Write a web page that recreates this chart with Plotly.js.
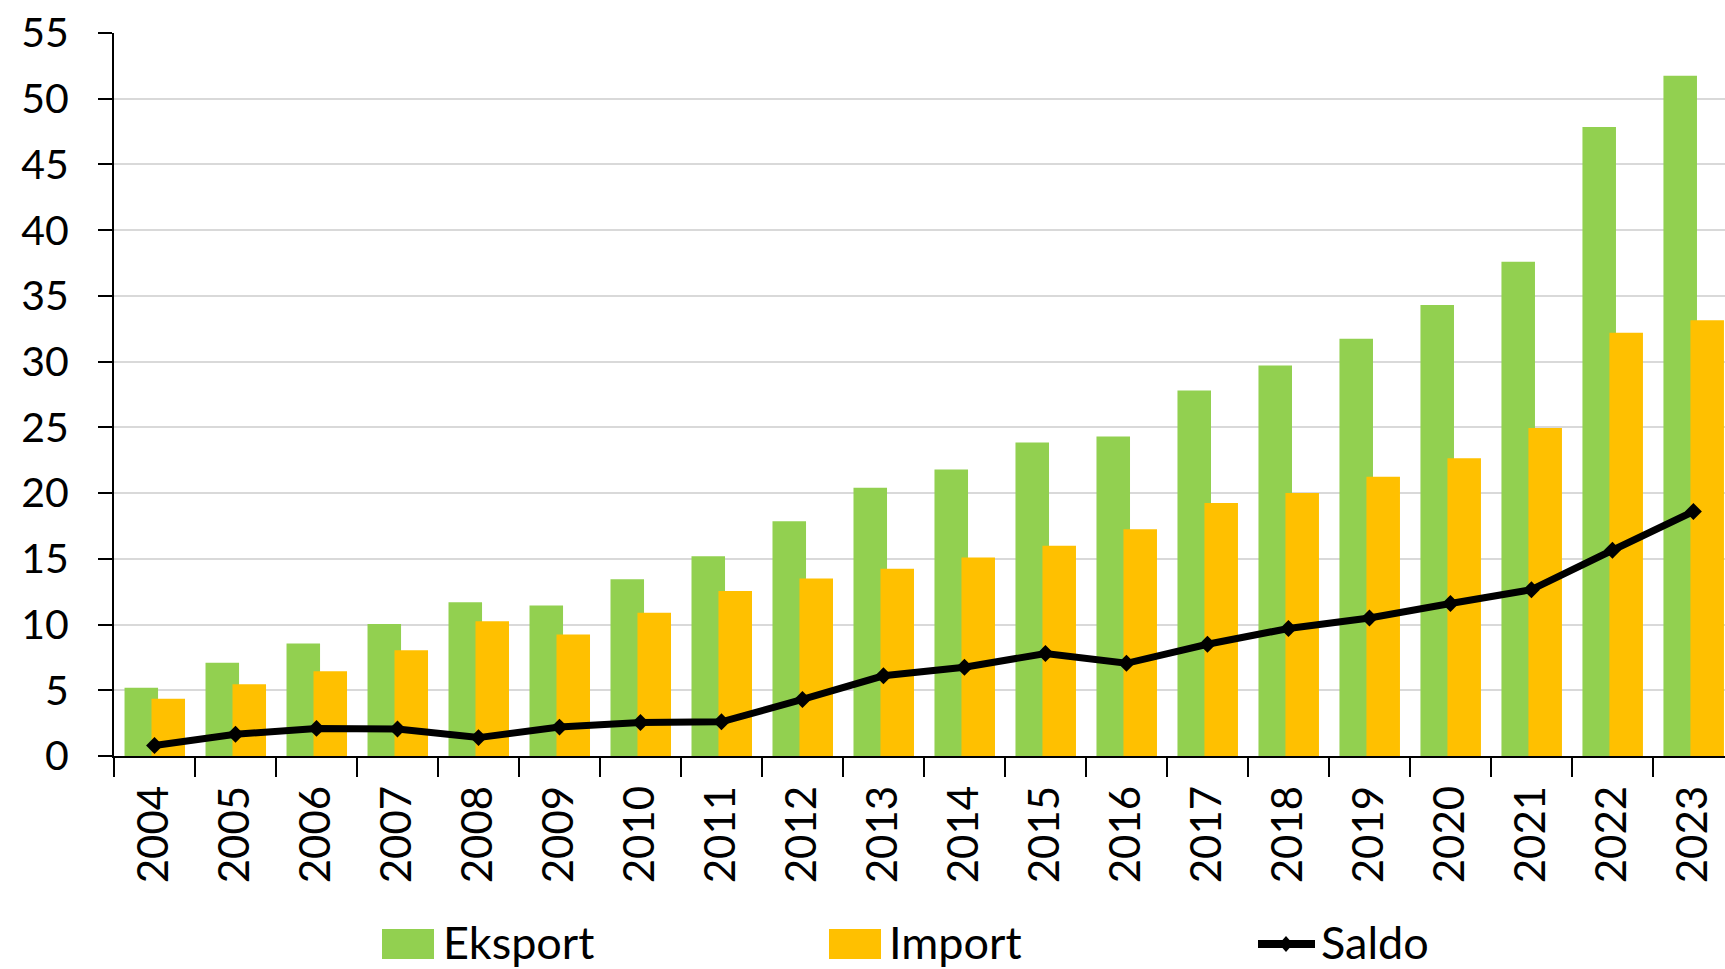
<!DOCTYPE html>
<html>
<head>
<meta charset="utf-8">
<script src="https://cdn.plot.ly/plotly-3.0.1.min.js"></script>
<style>
  html, body { margin: 0; padding: 0; background: #fff; }
  #chart { width: 1725px; height: 969px; }
</style>
</head>
<body>
<div id="chart"></div>
<script>
// years on the category axis
const years = ['2004', '2005', '2006', '2007', '2008', '2009', '2010', '2011', '2012', '2013',
  '2014', '2015', '2016', '2017', '2018', '2019', '2020', '2021', '2022', '2023'];

// values
const eksport = [5.2, 7.1, 8.55, 10.05, 11.7, 11.45, 13.45, 15.2, 17.85, 20.4,
  21.8, 23.85, 24.3, 27.8, 29.7, 31.75, 34.3, 37.6, 47.85, 51.75];
const importVals = [4.35, 5.45, 6.45, 8.05, 10.25, 9.25, 10.9, 12.55, 13.5, 14.25,
  15.1, 16.0, 17.25, 19.25, 20.0, 21.25, 22.65, 24.95, 32.2, 33.15];
const saldo = [0.8, 1.65, 2.1, 2.05, 1.4, 2.2, 2.55, 2.6, 4.3, 6.1,
  6.75, 7.8, 7.05, 8.5, 9.7, 10.5, 11.6, 12.65, 15.65, 18.6];

const legendNames = ['Eksport', 'Import', 'Saldo'];

const GREEN = '#92D050';
const ORANGE = '#FFC000';
const FONT = 'Lato, "Open Sans", sans-serif';

// plot area in pixels
const L = 114, T = 33, B = 756, W = 1725 - L, H = B - T;
const px = x => (x - L) / W;
const py = y => (B - y) / H;

const plotData = [
  {
    x: years, y: eksport, type: 'bar', name: legendNames[0],
    marker: { color: GREEN }, width: 0.414, offset: -0.37,
    showlegend: false, hoverinfo: 'x+y'
  },
  {
    x: years, y: importVals, type: 'bar', name: legendNames[1],
    marker: { color: ORANGE }, width: 0.414, offset: -0.037,
    showlegend: false, hoverinfo: 'x+y'
  },
  {
    x: years, y: saldo, type: 'scatter', mode: 'lines+markers', name: legendNames[2],
    line: { color: '#000', width: 7 },
    marker: { symbol: 'diamond', size: 13, color: '#000' },
    showlegend: false, cliponaxis: false
  }
];

// hand-made legend below the plot (big boxes like the original)
const legY = 944;
const shapes = [
  { type: 'rect', xref: 'paper', yref: 'paper', x0: px(382), x1: px(434), y0: py(legY - 15), y1: py(legY + 15),
    fillcolor: GREEN, line: { width: 0 } },
  { type: 'rect', xref: 'paper', yref: 'paper', x0: px(829), x1: px(881), y0: py(legY - 15), y1: py(legY + 15),
    fillcolor: ORANGE, line: { width: 0 } },
  { type: 'line', xref: 'paper', yref: 'paper', x0: px(1258), x1: px(1315), y0: py(legY), y1: py(legY),
    line: { color: '#000', width: 8 } },
  { type: 'path', xref: 'paper', yref: 'paper',
    path: 'M ' + px(1286) + ' ' + py(legY - 8) + ' L ' + px(1293) + ' ' + py(legY) +
      ' L ' + px(1286) + ' ' + py(legY + 8) + ' L ' + px(1279) + ' ' + py(legY) + ' Z',
    fillcolor: '#000', line: { width: 0 } }
];

const legX = [441, 887, 1319];
const annotations = legendNames.map((n, i) => ({
  text: n, xref: 'paper', yref: 'paper', x: px(legX[i]), y: py(legY - 2),
  xanchor: 'left', yanchor: 'middle', showarrow: false,
  font: { family: FONT, size: 45, color: '#000' }
}));

const layout = {
  width: 1725, height: 969,
  margin: { l: L, r: 0, t: T, b: 969 - B, pad: 0 },
  paper_bgcolor: '#fff', plot_bgcolor: '#fff',
  barmode: 'overlay',
  showlegend: false,
  font: { family: FONT, color: '#000' },
  xaxis: {
    type: 'category',
    range: [-0.5, 19.39],
    showgrid: false,
    showline: true, linecolor: '#000', linewidth: 2,
    ticks: 'outside', tickson: 'boundaries', ticklen: 19, tickwidth: 2, tickcolor: '#000',
    tickangle: -90, ticklabelstandoff: 11,
    tickfont: { family: FONT, size: 42, color: '#000' },
    zeroline: false, fixedrange: true
  },
  yaxis: {
    range: [0, 55], dtick: 5, tick0: 0,
    showgrid: true, gridcolor: '#d9d9d9', gridwidth: 2,
    showline: true, linecolor: '#000', linewidth: 2,
    ticks: 'outside', ticklen: 14, tickwidth: 2, tickcolor: '#000',
    ticklabelstandoff: 21,
    tickfont: { family: FONT, size: 41, color: '#000' },
    zeroline: false, fixedrange: true
  },
  shapes: shapes,
  annotations: annotations
};

Plotly.newPlot('chart', plotData, layout, { displayModeBar: false, staticPlot: true });
</script>
</body>
</html>
